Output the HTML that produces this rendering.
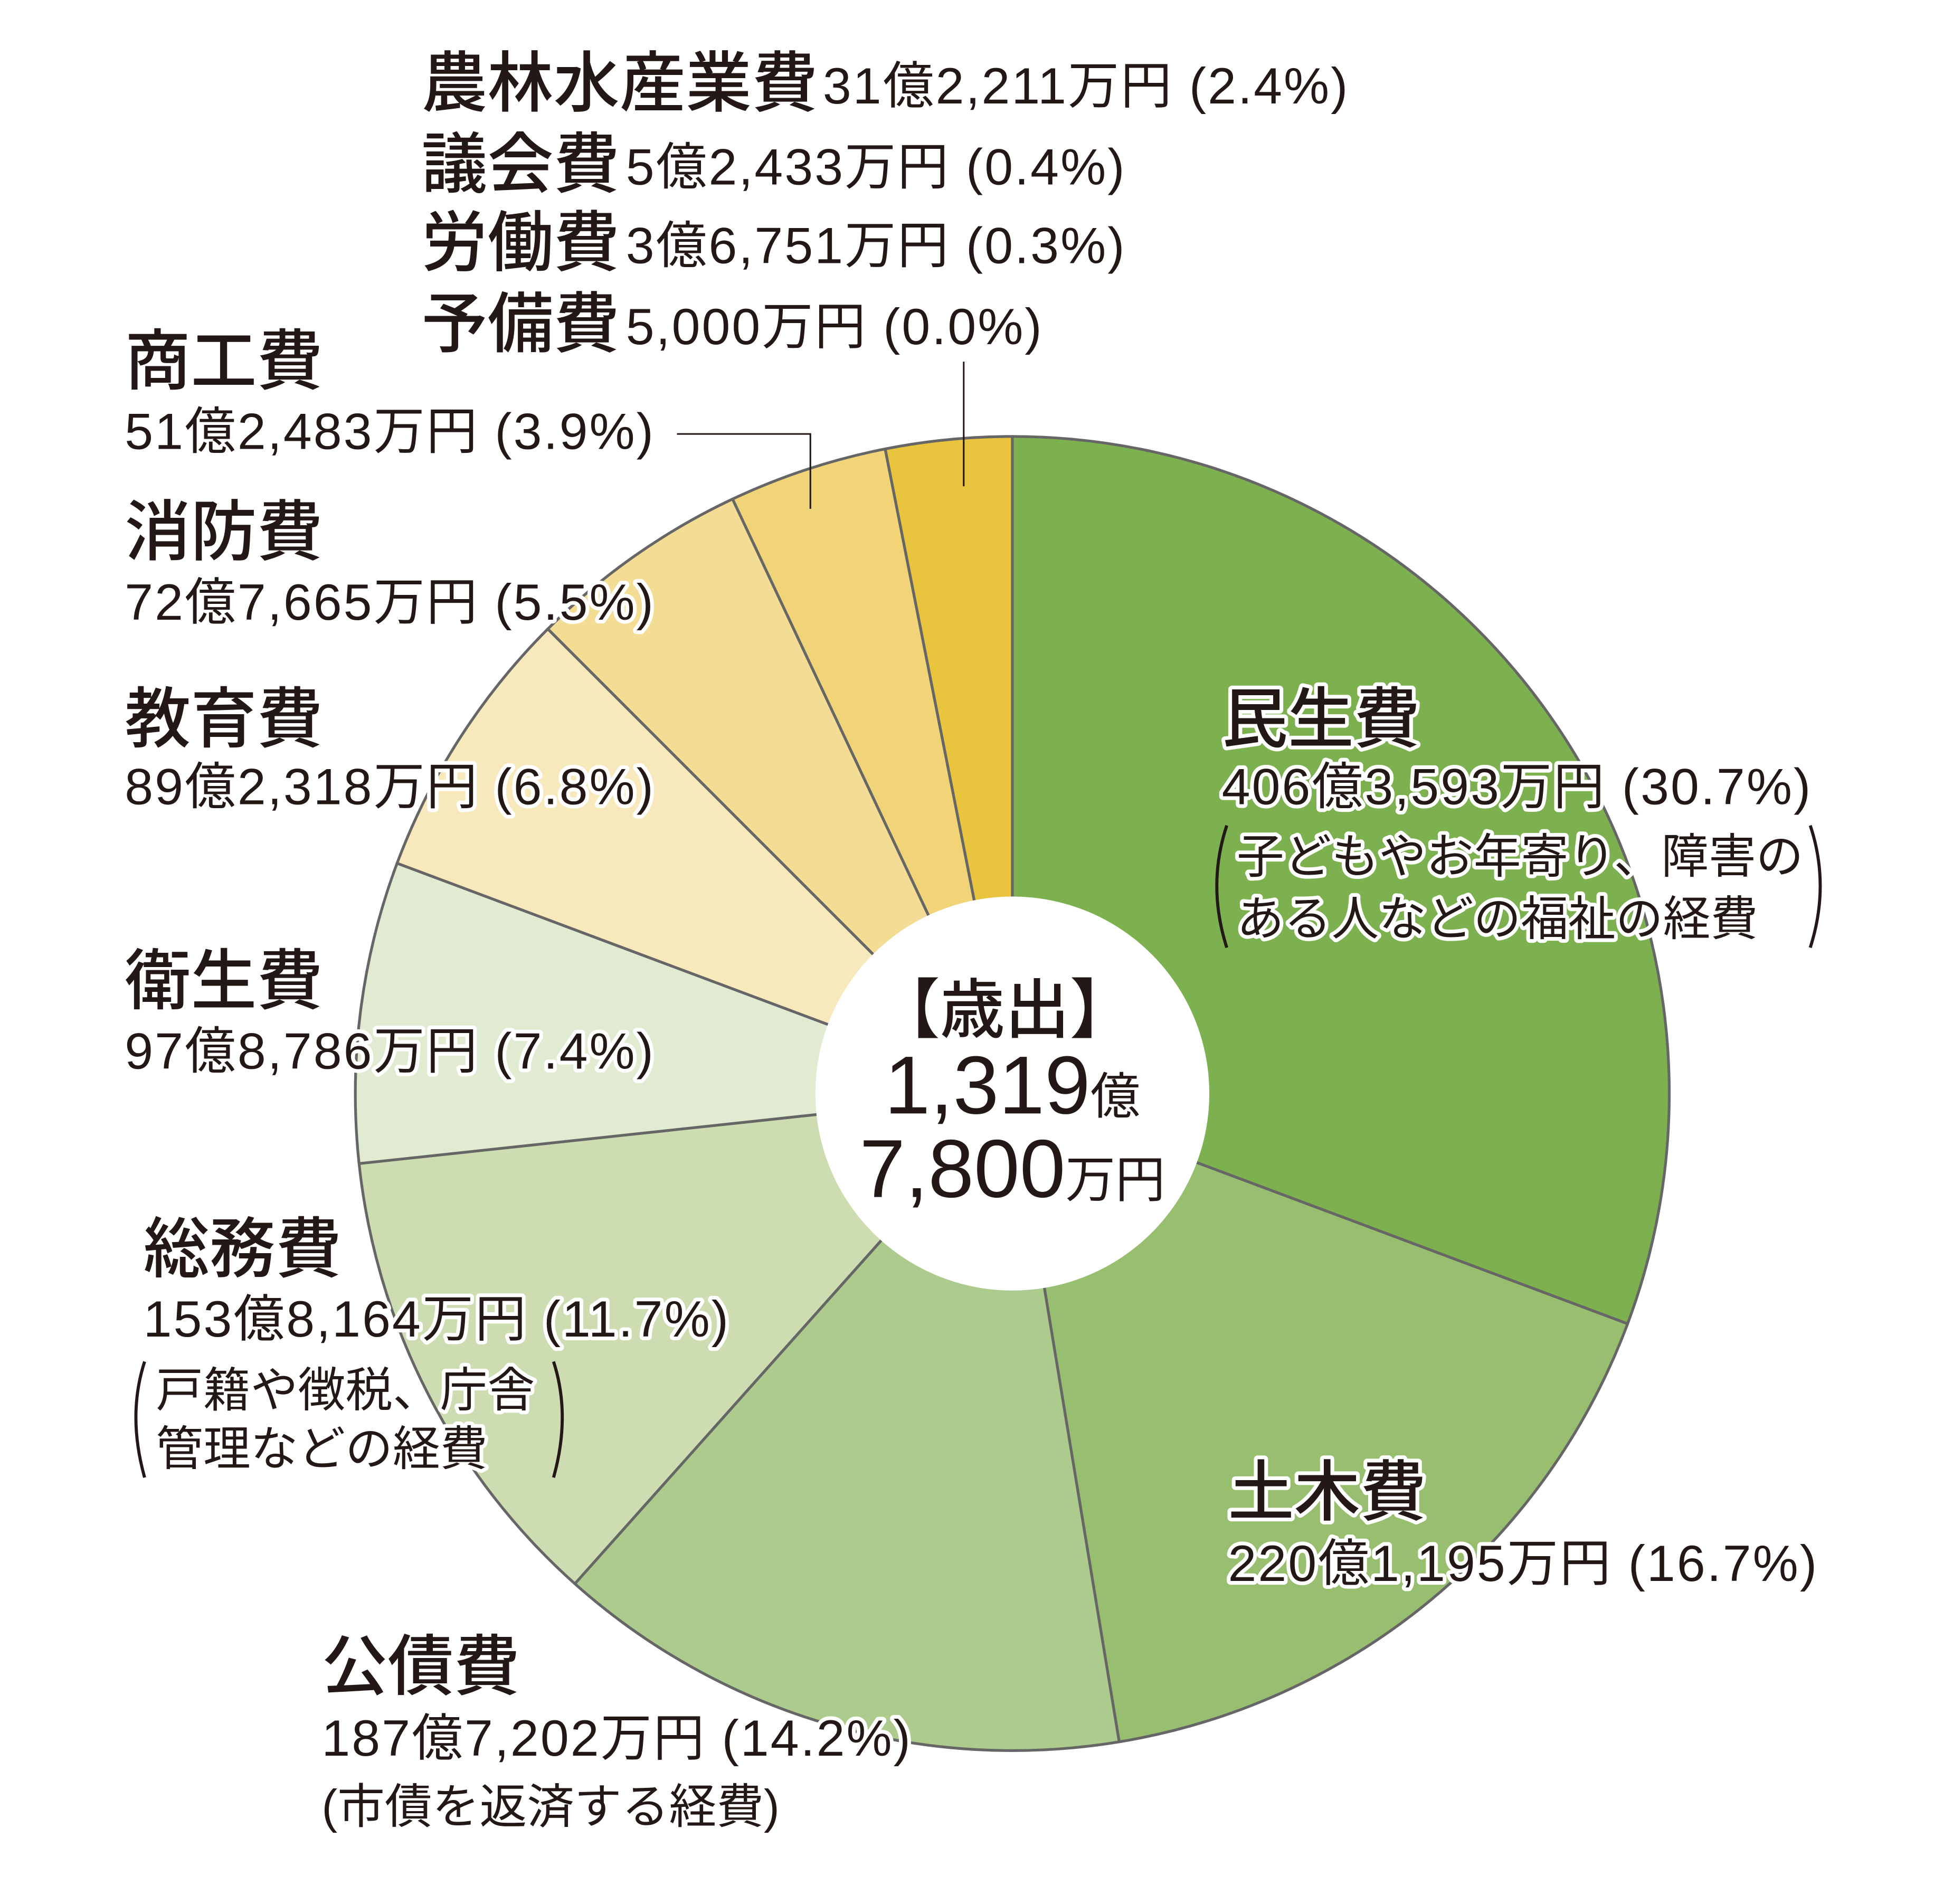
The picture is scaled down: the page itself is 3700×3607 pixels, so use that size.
<!DOCTYPE html>
<html><head><meta charset="utf-8">
<style>
html,body{margin:0;padding:0;background:#fff;}
svg{display:block;}
text{font-family:"Liberation Sans","Noto Sans CJK JP",sans-serif;fill:#231815;}
.h{font-weight:500;font-size:53px;}
.v{font-size:41px;letter-spacing:1.3px;}
.n{font-size:38px;}
.o{paint-order:stroke;stroke:#fff;stroke-width:6px;stroke-linejoin:round;}
</style></head>
<body>
<svg width="3700" height="3607" viewBox="0 0 1566.5 1527" xmlns="http://www.w3.org/2000/svg">
<g stroke="#666" stroke-width="2.2" stroke-linejoin="round">
<path d="M812,877 L812,350 A527,527 0 0 1 1305.5,1061.7 Z" fill="#7db04f"/>
<path d="M812,877 L1305.5,1061.7 A527,527 0 0 1 897.7,1397 Z" fill="#98bf6f"/>
<path d="M812,877 L897.7,1397 A527,527 0 0 1 461.1,1270.2 Z" fill="#adcb8d"/>
<path d="M812,877 L461.1,1270.2 A527,527 0 0 1 288,933.2 Z" fill="#cddcb1"/>
<path d="M812,877 L288,933.2 A527,527 0 0 1 318.5,692.3 Z" fill="#e1ebd1"/>
<path d="M812,877 L318.5,692.3 A527,527 0 0 1 439.4,504.4 Z" fill="#f7e9bc"/>
<path d="M812,877 L439.4,504.4 A527,527 0 0 1 587.6,400.2 Z" fill="#f3dc93"/>
<path d="M812,877 L587.6,400.2 A527,527 0 0 1 710,360 Z" fill="#f1d378"/>
<path d="M812,877 L710,360 A527,527 0 0 1 812,350 Z" fill="#e9c43e"/>
</g>
<circle cx="812" cy="877" r="158" fill="#fff"/>
<g stroke="#231815" stroke-width="1.3" fill="none">
<line x1="773" y1="290" x2="773" y2="390"/>
<polyline points="543,348 650,348 650,408"/>
</g>
<text x="338" y="85" class="h">農林水産業費</text><text x="660" y="83" class="v">31億2,211万円 (2.4%)</text>
<text x="338" y="150" class="h">議会費</text><text x="502" y="148" class="v">5億2,433万円 (0.4%)</text>
<text x="338" y="213" class="h">労働費</text><text x="502" y="211" class="v">3億6,751万円 (0.3%)</text>
<text x="338" y="278" class="h">予備費</text><text x="502" y="276" class="v">5,000万円 (0.0%)</text>
<text x="100" y="308" class="h">商工費</text><text x="100" y="360" class="v">51億2,483万円 (3.9%)</text>
<text x="100" y="445" class="h">消防費</text><text x="100" y="497" class="v o">72億7,665万円 (5.5%)</text>
<text x="100" y="595" class="h">教育費</text><text x="100" y="645" class="v o">89億2,318万円 (6.8%)</text>
<text x="100" y="805" class="h">衛生費</text><text x="100" y="857" class="v o">97億8,786万円 (7.4%)</text>
<text x="115" y="1020" class="h">総務費</text><text x="115" y="1072" class="v o">153億8,164万円 (11.7%)</text>
<text x="125" y="1128" class="n o">戸籍や徴税、庁舎</text>
<text x="125" y="1175" class="n o">管理などの経費</text>
<path d="M116,1092 Q102,1135 116,1185" stroke="#231815" stroke-width="2.5" fill="none"/>
<path d="M444,1092 Q458,1135 444,1185" stroke="#231815" stroke-width="2.5" fill="none"/>
<text x="258" y="1355" class="h">公債費</text><text x="258" y="1408" class="v o">187億7,202万円 (14.2%)</text>
<text x="258" y="1462" class="n">(市債を返済する経費)</text>
<text x="980" y="595" class="h o">民生費</text>
<text x="980" y="645" class="v o">406億3,593万円 (30.7%)</text>
<text x="992" y="700" class="n o">子どもやお年寄り、障害の</text>
<text x="992" y="750" class="n o">ある人などの福祉の経費</text>
<path d="M984,662 Q968,710 984,760" stroke="#231815" stroke-width="2.5" fill="none"/>
<path d="M1452,662 Q1468,710 1452,760" stroke="#231815" stroke-width="2.5" fill="none"/>
<text x="985" y="1215" class="h o">土木費</text>
<text x="985" y="1268" class="v o">220億1,195万円 (16.7%)</text>
<text x="806" y="828" text-anchor="middle" style="font-size:52px;font-weight:500">【歳出】</text>
<text x="812" y="893" text-anchor="middle"><tspan style="font-size:66px">1,319</tspan><tspan style="font-size:40px">億</tspan></text>
<text x="812" y="960" text-anchor="middle"><tspan style="font-size:66px">7,800</tspan><tspan style="font-size:40px">万円</tspan></text>
</svg>
</body></html>
